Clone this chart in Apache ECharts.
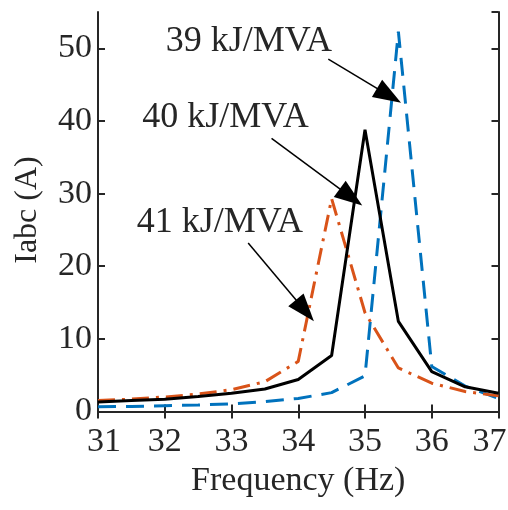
<!DOCTYPE html>
<html>
<head>
<meta charset="utf-8">
<script src="https://cdn.jsdelivr.net/npm/echarts@6/dist/echarts.min.js"></script>
<style>html,body{margin:0;padding:0;background:#fff;overflow:hidden;width:508px;height:510px}#c{width:508px;height:510px}</style>
</head>
<body>
<div id="c"></div>
<script>
const freq = [31, 31.5, 32, 32.5, 33, 33.5, 34, 34.5, 35, 35.5, 36, 36.5, 37];
const i39 = [0.65, 0.7, 0.8, 0.9, 1.05, 1.35, 1.8, 2.6, 4.9, 52.3, 6.2, 3.5, 1.8];
const i40 = [1.3, 1.5, 1.7, 2.05, 2.5, 3.1, 4.4, 7.7, 38.8, 12.4, 5.5, 3.4, 2.5];
const i41 = [1.5, 1.7, 2.0, 2.4, 3.0, 4.1, 6.9, 29.3, 13.6, 6.0, 3.9, 2.75, 2.15];
const xTicks = [31, 32, 33, 34, 35, 36, 37];
const yTicks = [0, 10, 20, 30, 40, 50];
const labels = ['39 kJ/MVA', '40 kJ/MVA', '41 kJ/MVA'];
const labelPos = [[33.26, 51.0], [32.91, 40.5], [32.825, 26.0]];
const arrowFrom = [[34.45, 48.5], [33.60, 37.6], [33.25, 23.2]];
const arrowTo = [[35.36, 43.5], [34.79, 29.5], [34.10, 13.9]];

const FONT = 'Liberation Serif';
const AX = '#262626';
const pairs = ys => freq.map((f, i) => [f, ys[i]]);

const chart = echarts.init(document.getElementById('c'), null, {renderer: 'canvas', width: 508, height: 510});
const axisCommon = {
  axisLine: {show: true, lineStyle: {color: AX, width: 2}},
  axisTick: {show: true, inside: true, length: 7, lineStyle: {color: AX, width: 2}},
  splitLine: {show: false}
};
const tickTxt = {fontFamily: FONT, fontSize: 34, color: AX};
chart.setOption({
  animation: false,
  backgroundColor: '#fff',
  grid: {left: 98, right: 9.5, top: 12, bottom: 98.5, containLabel: false, outerBoundsMode: 'none'},
  xAxis: [
    Object.assign({
      type: 'value', min: 31, max: 37, interval: 1, position: 'bottom',
      name: 'Frequency (Hz)', nameLocation: 'middle', nameGap: 32,
      nameTextStyle: {fontFamily: FONT, fontSize: 34, color: AX},
      axisLabel: Object.assign({margin: 14,
        formatter: v => {
          if (!xTicks.includes(v)) return '';
          if (v === xTicks[0]) return '{f|' + v + '}';
          if (v === xTicks[xTicks.length - 1]) return '{l|' + v + '}';
          return String(v);
        },
        rich: {
          f: Object.assign({padding: [0, 0, 0, 12]}, tickTxt),
          l: Object.assign({padding: [0, 18, 0, 0]}, tickTxt)
        }
      }, tickTxt)
    }, axisCommon),
    Object.assign({
      type: 'value', min: 31, max: 37, interval: 1, position: 'top',
      axisLabel: {show: false}
    }, axisCommon)
  ],
  yAxis: [
    Object.assign({
      type: 'value', min: 0, max: 55, interval: 10, position: 'left',
      axisLabel: Object.assign({margin: 6, showMaxLabel: false,
        formatter: v => yTicks.includes(v) ? String(v) : ''}, tickTxt)
    }, axisCommon),
    Object.assign({
      type: 'value', min: 0, max: 55, interval: 10, position: 'right',
      axisLabel: {show: false}
    }, axisCommon)
  ],
  graphic: [{
    type: 'text', x: 28, y: 210, rotation: Math.PI / 2,
    style: {text: 'Iabc (A)', fontFamily: FONT, fontSize: 32, fill: AX,
      align: 'center', verticalAlign: 'middle'}
  }],
  series: [
    {
      type: 'line', name: '39', data: pairs(i39), symbol: 'none', z: 2,
      lineStyle: {color: '#0072BD', width: 3, type: [18, 10]}
    },
    {
      type: 'line', name: '41', data: pairs(i41), symbol: 'none', z: 3,
      lineStyle: {color: '#D95319', width: 3, type: [17, 7, 3, 7]}
    },
    {
      type: 'line', name: '40', data: pairs(i40), symbol: 'none', z: 4,
      lineStyle: {color: '#000000', width: 3},
      markLine: {
        silent: true, animation: false,
        symbol: ['none', 'triangle'], symbolSize: [20, 28],
        lineStyle: {color: '#000', width: 1.5, type: 'solid'},
        label: {show: false},
        data: arrowFrom.map((p, i) => [{coord: p}, {coord: arrowTo[i]}])
      },
      markPoint: {
        silent: true, animation: false,
        symbol: 'circle', symbolSize: 1,
        itemStyle: {color: 'rgba(0,0,0,0)'},
        label: {show: true, position: 'inside', formatter: '{b}',
          fontFamily: FONT, fontSize: 36, color: AX},
        data: labels.map((t, i) => ({name: t, coord: labelPos[i]}))
      }
    }
  ]
});
</script>
</body>
</html>
